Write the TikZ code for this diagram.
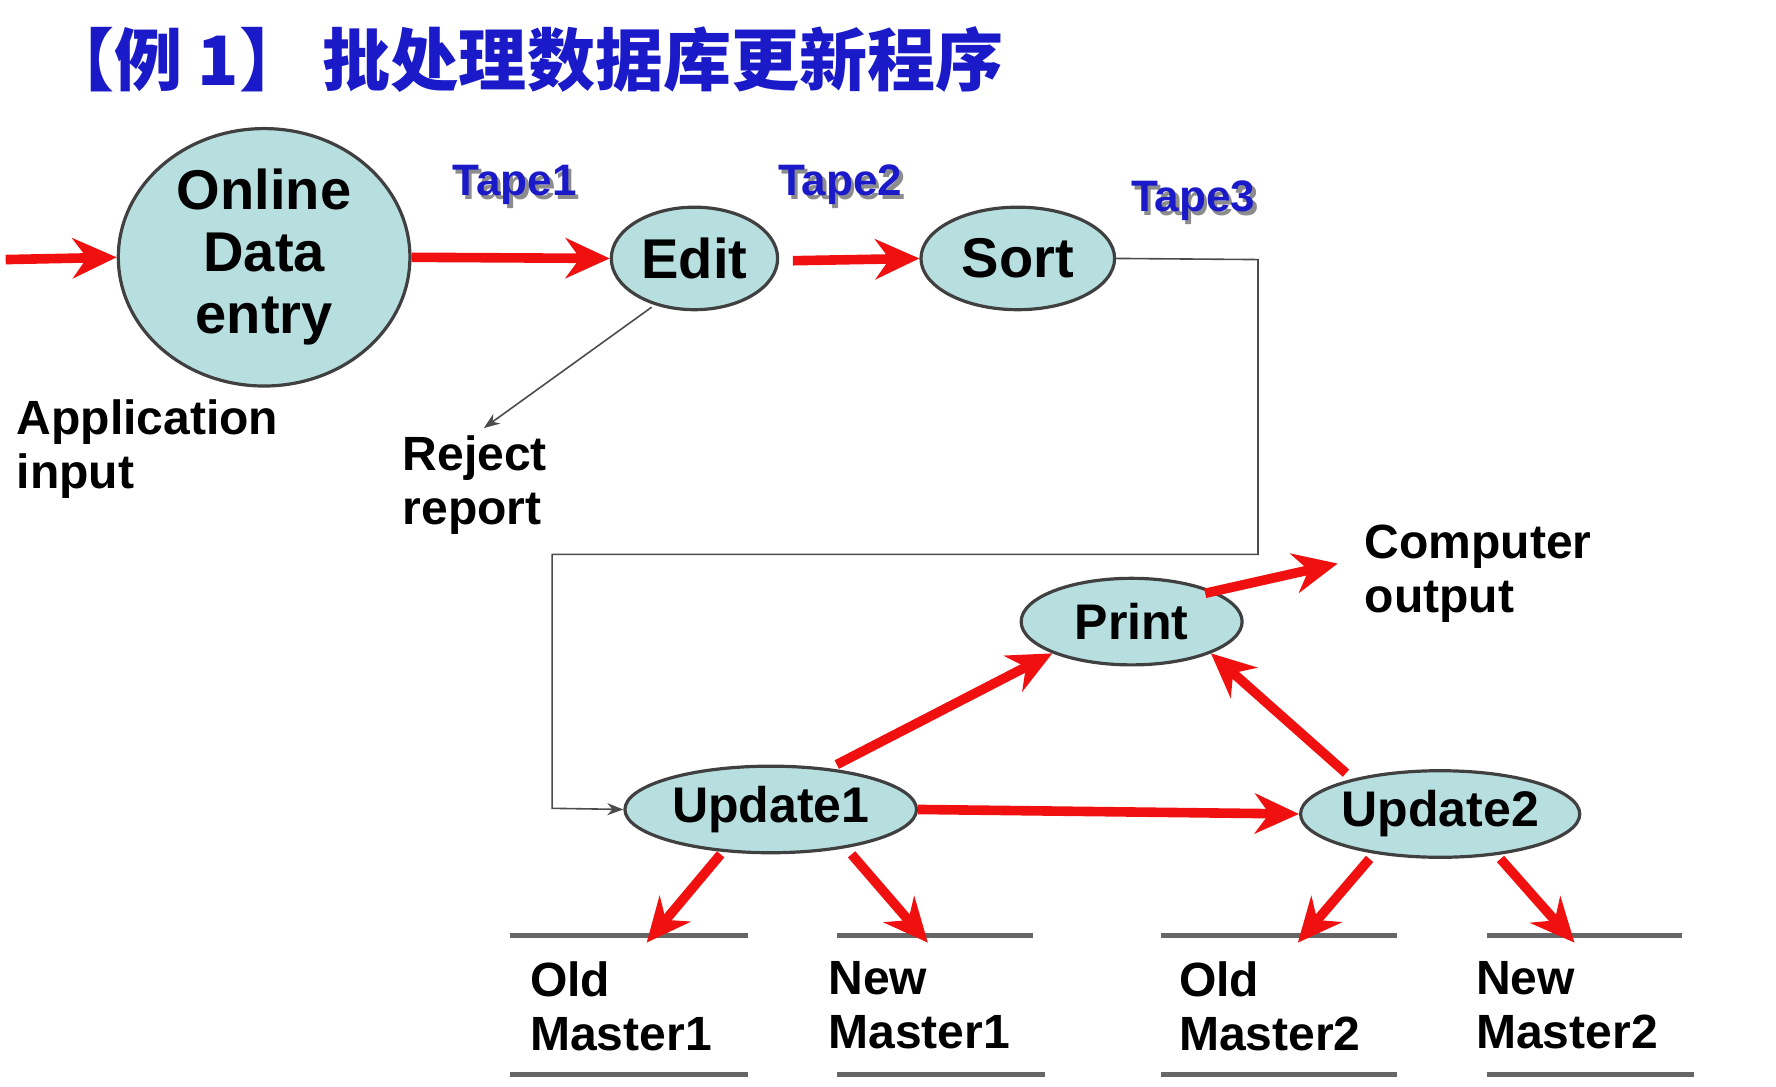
\documentclass[tikz,border=0pt]{standalone}
\usepackage{fontspec}
\setmainfont{Liberation Sans}
\newfontfamily\cjk{Noto Sans CJK SC}
\usetikzlibrary{shapes.geometric, arrows.meta}
\definecolor{procfill}{HTML}{B8DFE0}
\definecolor{titleblue}{HTML}{1A1AC8}
\definecolor{flowred}{HTML}{F01010}

\begin{document}
\begin{tikzpicture}[
    x=0.01cm, y=-0.01cm,
    proc/.style={ellipse, draw=black!75, thick, fill=procfill, inner sep=0pt, font=\bfseries},
    flow/.style={line width=2.4pt, draw=flowred, -{Stealth[length=11pt, width=10pt]}},
    link/.style={thin, draw=black!70, -{Stealth[length=4pt]}},
    lbl/.style={font=\bfseries\fontsize{12}{13.5}\selectfont, align=left, anchor=north west, inner sep=0pt},
    tape/.style={font=\bfseries\fontsize{11}{13}\selectfont, text=titleblue},
    store/.style={line width=1.2pt, draw=black!60}
]
   \useasboundingbox (0,0) rectangle (1560,954);

   % Title
   \node[anchor=west, text=titleblue, font=\cjk\bfseries\fontsize{17}{20}\selectfont] (title) at (28,52) {【例 1】 批处理数据库更新程序};

   % Processes
   \node[proc, minimum width=2.56cm, minimum height=2.26cm, font=\bfseries\fontsize{14}{15.5}\selectfont, align=center] (ode) at (232,226) {Online\\Data\\entry};
   \node[proc, minimum width=1.46cm, minimum height=0.9cm, font=\bfseries\fontsize{14}{16}\selectfont] (edit) at (610,227) {Edit};
   \node[proc, minimum width=1.7cm, minimum height=0.9cm, font=\bfseries\fontsize{14}{16}\selectfont] (sort) at (894,227) {Sort};
   \node[proc, minimum width=1.94cm, minimum height=0.76cm, font=\bfseries\fontsize{12.5}{14}\selectfont] (print) at (994,546) {Print};
   \node[proc, minimum width=2.56cm, minimum height=0.76cm, font=\bfseries\fontsize{12.5}{14}\selectfont] (up1) at (677,711) {Update1};
   \node[proc, minimum width=2.44cm, minimum height=0.76cm, font=\bfseries\fontsize{12.5}{14}\selectfont] (up2) at (1265,715) {Update2};

   % Tapes (with shadow)
   \foreach \n/\t/\px/\py in {t1/Tape1/452/162, t2/Tape2/738/162, t3/Tape3/1048/176} {
      \node[tape, text=black!45] (\n s) at (\px+3,\py+4) {\t};
      \node[tape] (\n) at (\px,\py) {\t};
   }

   % Labels
   \node[lbl] (appin) at (14,350) {Application\\input};
   \node[lbl] (reject) at (353,382) {Reject\\report};
   \node[lbl] (cout) at (1198,460) {Computer\\output};
   \node[lbl] (om1) at (465,844) {Old\\Master1};
   \node[lbl] (nm1) at (727,844) {New\\Master1};
   \node[lbl] (om2) at (1035,844) {Old\\Master2};
   \node[lbl] (nm2) at (1296,844) {New\\Master2};

   % Master files
   \foreach \a/\b/\c in {448/657/657, 735/907/918, 1020/1227/1227, 1306/1477/1488} {
      \draw[store] (\a,822) -- (\b,822);
      \draw[store] (\a,944) -- (\c,944);
   }

   % Connectors
   \coordinate (src) at (5,228);
   \coordinate (rejin) at (425,376);
   \coordinate (om1in) at (568,828);
   \coordinate (nm1in) at (815,828);
   \coordinate (om2in) at (1140,828);
   \coordinate (nm2in) at (1383,828);
   \coordinate (coutin) at (1175,495);

   \draw[flow] (src) -- (ode.west);
   \draw[flow] (ode.east) -- (edit.west);
   \draw[flow] (edit.east) ++(12,2) -- (sort.west);
   \draw[link] (sort.east) -- (1105,228) -- (1105,487) -- (485,487) -- (485,710) -- (up1.west);
   \draw[link] (edit.south west) ++(15,10) -- (rejin);
   \draw[flow] (up1.east) -- (up2.west);
   \draw[flow] (up1.north) ++(58,0) -- (print.south west);
   \draw[flow] (up2.north west) ++(5,-8) -- (print.south east);
   \draw[flow] (print.north east) ++(-5,3) -- (coutin);
   \draw[flow] (up1.south) ++(-44,0) -- (om1in);
   \draw[flow] (up1.south) ++(71,0) -- (nm1in);
   \draw[flow] (up2.south) ++(-62,0) -- (om2in);
   \draw[flow] (up2.south) ++(53,0) -- (nm2in);
\end{tikzpicture}
\end{document}
